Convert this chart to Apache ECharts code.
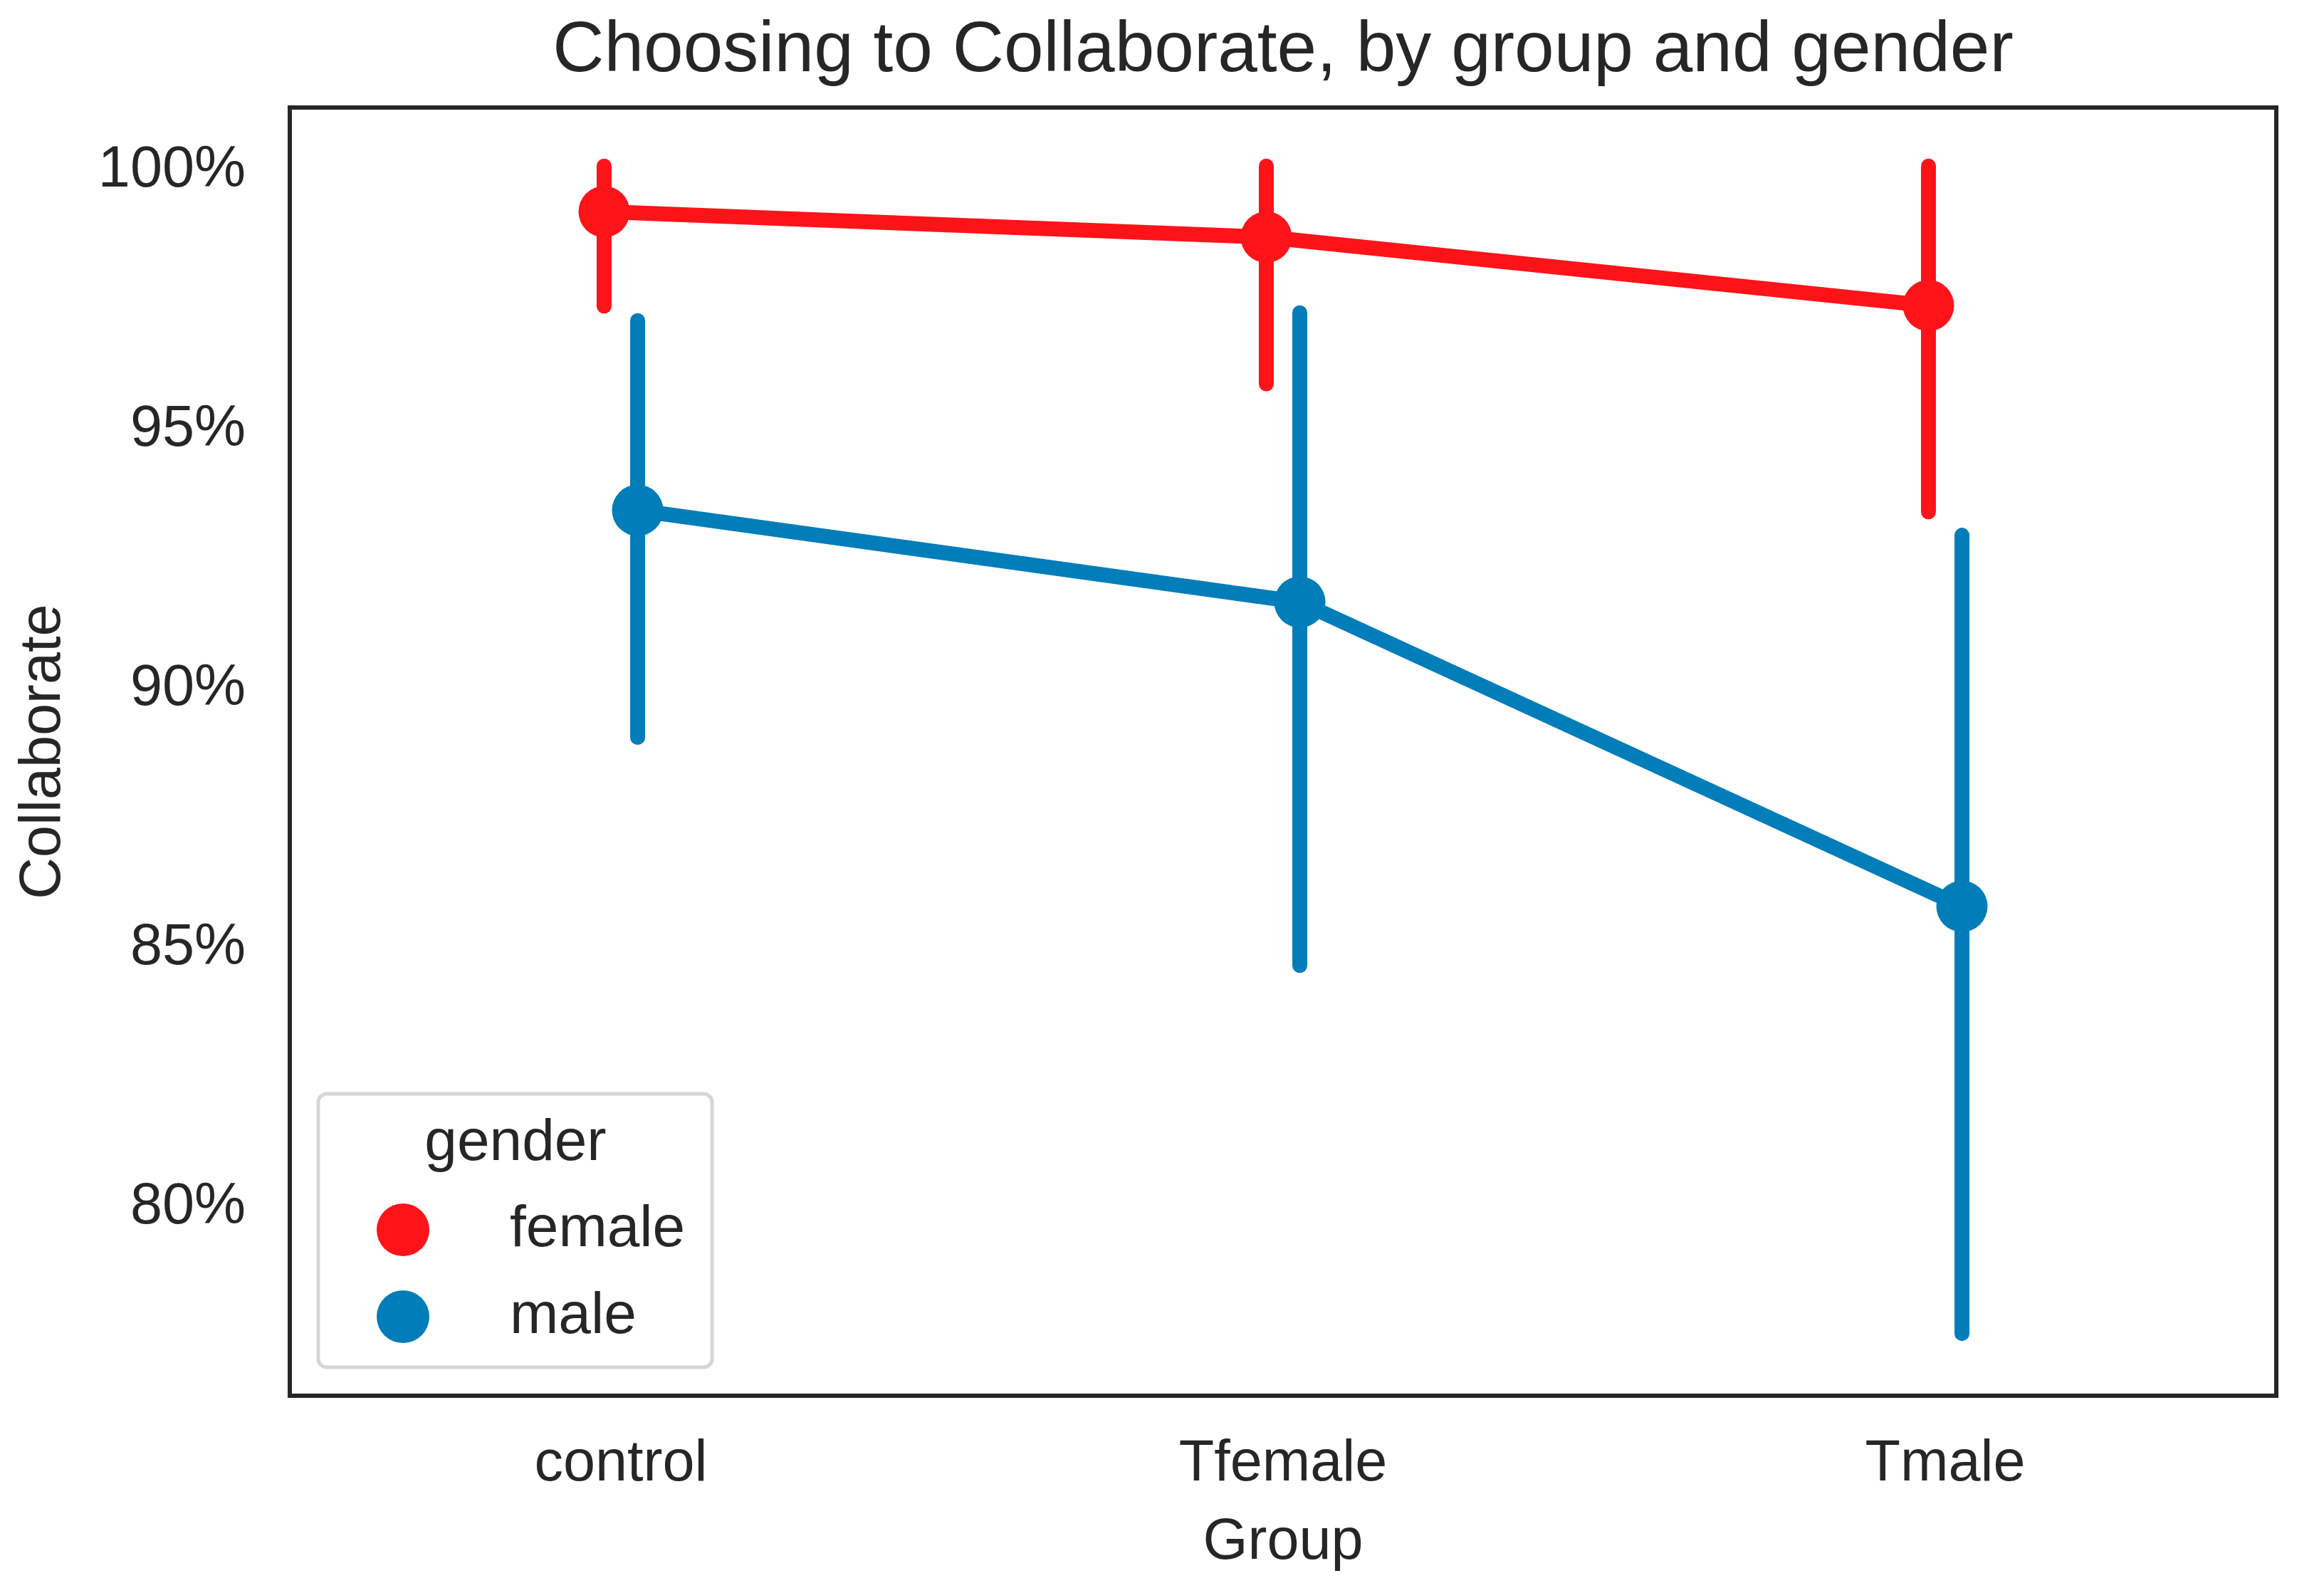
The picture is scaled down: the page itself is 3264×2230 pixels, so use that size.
<!DOCTYPE html>
<html><head><meta charset="utf-8">
<script src="https://cdn.jsdelivr.net/npm/echarts@6/dist/echarts.min.js"></script>
<style>html,body{margin:0;padding:0;background:#fff}#c{width:3264px;height:2230px}</style>
</head><body><div id="c"></div>
<script>
const categories = ['control', 'Tfemale', 'Tmale'];
const genders = ['female', 'male'];
const femaleMean = [99.12, 98.63, 97.31];
const femaleLow = [97.30, 95.80, 93.33];
const femaleHigh = [100, 100, 100];
const maleMean = [93.36, 91.59, 85.72];
const maleLow = [88.98, 84.58, 77.48];
const maleHigh = [97.02, 97.17, 92.88];
const yTicks = [80, 85, 90, 95, 100];

const colors = ['#fe1319', '#017dba'];
const dodge = [-0.0253, 0.0253];
const FONT = "'Liberation Sans', Arial, sans-serif";
const TXT = '#262626';

const means = [femaleMean, maleMean];
const lows = [femaleLow, maleLow];
const highs = [femaleHigh, maleHigh];

const chart = echarts.init(document.getElementById('c'), null, {renderer: 'canvas', width: 3264, height: 2230, devicePixelRatio: 1});

const series = [];
genders.forEach((g, gi) => {
  series.push({
    name: g,
    type: 'line',
    xAxisIndex: 1,
    z: 3,
    data: categories.map((c, i) => [i + dodge[gi], means[gi][i]]),
    symbol: 'circle',
    symbolSize: 72,
    showSymbol: true,
    lineStyle: {color: colors[gi], width: 21},
    itemStyle: {color: colors[gi]},
    emphasis: {disabled: true},
    silent: true
  });
});
genders.forEach((g, gi) => {
  series.push({
    name: g,
    type: 'custom',
    xAxisIndex: 1,
    z: 2,
    itemStyle: {color: colors[gi]},
    encode: {x: 0, y: [1, 2]},
    data: categories.map((c, i) => [i + dodge[gi], lows[gi][i], highs[gi][i]]),
    renderItem: function (params, api) {
      const p1 = api.coord([api.value(0), api.value(1)]);
      const p2 = api.coord([api.value(0), api.value(2)]);
      return {type: 'line', shape: {x1: p1[0], y1: p1[1], x2: p2[0], y2: p2[1]},
        style: {stroke: colors[gi], lineWidth: 21, lineCap: 'round'}};
    },
    silent: true
  });
});

chart.setOption({
  animation: false,
  backgroundColor: '#ffffff',
  color: colors,
  textStyle: {fontFamily: FONT, color: TXT},
  title: {
    text: 'Choosing to Collaborate, by group and gender',
    left: 1802, top: 22, textAlign: 'center', padding: 0,
    textStyle: {fontFamily: FONT, fontSize: 100, fontWeight: 'normal', color: TXT}
  },
  grid: {left: 407, top: 151, width: 2790, height: 1809, show: true, borderColor: '#262626', borderWidth: 6, containLabel: false},
  legend: {
    data: genders.map((g, gi) => ({name: g, itemStyle: {color: colors[gi]}})),
    orient: 'vertical',
    left: 447, top: 1536,
    icon: 'circle',
    itemWidth: 74, itemHeight: 74, itemGap: 40,
    padding: [150, 38, 30, 82],
    backgroundColor: '#ffffff',
    borderColor: '#d6d6d6', borderWidth: 5, borderRadius: 12,
    textStyle: {fontFamily: FONT, fontSize: 82, color: TXT, padding: [0, 0, 0, 108], lineHeight: 74},
    selectedMode: false
  },
  graphic: [{
    type: 'text', x: 724, y: 1606, z: 100,
    style: {text: 'gender', fontFamily: FONT, fontSize: 82, fill: TXT, textAlign: 'center', textVerticalAlign: 'middle'}
  }],
  xAxis: [{
    type: 'category', data: categories, boundaryGap: true,
    axisLine: {show: false}, axisTick: {show: false}, splitLine: {show: false},
    axisLabel: {fontFamily: FONT, fontSize: 81, color: TXT, margin: 56},
    name: 'Group', nameLocation: 'middle', nameGap: 166,
    nameTextStyle: {fontFamily: FONT, fontSize: 81, color: TXT}
  }, {
    type: 'value', min: -0.5, max: 2.5, show: false
  }],
  yAxis: {
    type: 'value', min: 76.28, max: 101.13,
    axisLine: {show: false}, axisTick: {show: false}, splitLine: {show: false},
    axisLabel: {
      customValues: yTicks,
      formatter: v => '{a|' + v + '%}',
      margin: 62,
      rich: {a: {fontFamily: FONT, fontSize: 81, color: TXT, padding: [12, 0, 0, 0]}}
    },
    name: 'Collaborate', nameLocation: 'middle', nameGap: 305,
    nameTextStyle: {fontFamily: FONT, fontSize: 81, color: TXT}
  },
  series: series
});
</script>
</body></html>
